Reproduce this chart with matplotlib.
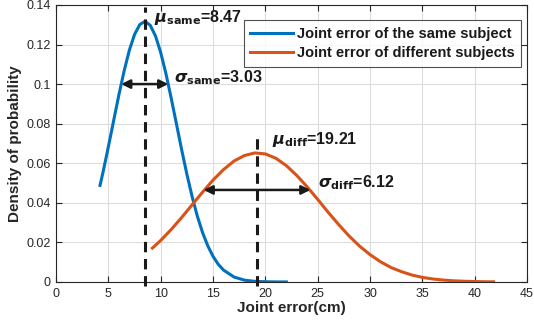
import matplotlib
matplotlib.use("Agg")
import matplotlib.pyplot as plt

plt.rcParams["font.family"] = ["Liberation Sans", "DejaVu Sans"]

# density curves
x_same = [4.2, 4.5, 5, 5.5, 6, 6.5, 7, 7.5, 8, 8.5, 9, 9.5, 10, 10.5, 11, 11.5,
          12, 12.5, 13, 13.5, 14, 14.5, 15, 15.5, 16, 17, 18, 19, 20, 21, 22]
y_same = [0.0488, 0.0558, 0.0684, 0.0815, 0.0945, 0.1066, 0.1171, 0.1251, 0.1301,
          0.1317, 0.1297, 0.1243, 0.1159, 0.1052, 0.0929, 0.0799, 0.0668, 0.0544,
          0.0431, 0.0332, 0.0249, 0.0182, 0.0129, 0.0089, 0.0060, 0.0025, 0.0009,
          0.0003, 0.0001, 0.00002, 0.0]

x_diff = [9.2, 10, 11, 12, 13, 14, 15, 16, 17, 18, 19, 20, 21, 22, 23, 24, 25, 26,
          27, 28, 29, 30, 31, 32, 33, 34, 35, 36, 37, 38, 39, 40, 41, 41.8]
y_diff = [0.0171, 0.0210, 0.0265, 0.0326, 0.0390, 0.0454, 0.0515, 0.0568, 0.0611,
          0.0639, 0.0652, 0.0647, 0.0625, 0.0588, 0.0538, 0.0480, 0.0417, 0.0352,
          0.0290, 0.0232, 0.0181, 0.0138, 0.0102, 0.0073, 0.0052, 0.0035, 0.0023,
          0.0015, 0.00095, 0.00058, 0.00035, 0.0002, 0.0001, 0.00007]

mu_same, sigma_same = 8.47, 3.03
mu_diff, sigma_diff = 19.21, 6.12

# annotation geometry
mean_line_top = [0.139, 0.074]
arrow_same = (6.22, 10.72, 0.1)
arrow_diff = (14.1, 24.3, 0.0465)

labels = ["Joint error of the same subject", "Joint error of different subjects"]
x_ticks = list(range(0, 50, 5))
y_ticks = [0, 0.02, 0.04, 0.06, 0.08, 0.1, 0.12, 0.14]
y_tick_labels = ["0", "0.02", "0.04", "0.06", "0.08", "0.1", "0.12", "0.14"]

blue = "#0072BD"
orange = "#D95319"
dark = "#262626"

fig = plt.figure(figsize=(5.34, 3.29), dpi=100)
ax = fig.add_axes([0.105, 0.143, 0.882, 0.842])

ax.plot(x_same, y_same, color=blue, lw=2.2, label=labels[0], zorder=3)
ax.plot(x_diff, y_diff, color=orange, lw=2.2, label=labels[1], zorder=3)

for mu, top in zip([mu_same, mu_diff], mean_line_top):
    ax.plot([mu, mu], [-0.002, top], color="#1a1a1a", lw=2.2,
            ls=(0, (3.4, 2.2)), clip_on=False, zorder=4)

for x0, x1, yy in [arrow_same, arrow_diff]:
    ax.annotate("", xy=(x0, yy), xytext=(x1, yy),
                arrowprops=dict(arrowstyle="<|-|>", color="#1a1a1a", lw=1.8,
                                mutation_scale=13, shrinkA=0, shrinkB=0),
                zorder=5)

txt = dict(fontsize=11.5, fontweight="bold", color="#1a1a1a", va="center")
ax.text(9.4, 0.1335, r"$\boldsymbol{\mu}_{\mathbf{same}}$=8.47", **txt)
ax.text(11.3, 0.1030, r"$\boldsymbol{\sigma}_{\mathbf{same}}$=3.03", **txt)
ax.text(20.6, 0.0718, r"$\boldsymbol{\mu}_{\mathbf{diff}}$=19.21", **txt)
ax.text(25.0, 0.0500, r"$\boldsymbol{\sigma}_{\mathbf{diff}}$=6.12", **txt)

ax.set_xlim(0, 45)
ax.set_ylim(0, 0.14)
ax.set_xticks(x_ticks)
ax.set_yticks(y_ticks)
ax.set_yticklabels(y_tick_labels)
ax.grid(True, color="#dcdcdc", lw=0.8)
ax.set_axisbelow(True)
ax.tick_params(direction="in", top=True, right=True, length=4, width=0.8,
               labelsize=9, colors=dark, pad=4)
for spine in ax.spines.values():
    spine.set_color(dark)
    spine.set_linewidth(0.8)

ax.set_xlabel("Joint error(cm)", fontsize=11, fontweight="bold", color=dark, labelpad=1)
ax.set_ylabel("Density of probability", fontsize=11, fontweight="bold", color=dark,
              labelpad=3)

leg = ax.legend(loc="upper right", bbox_to_anchor=(0.994, 0.955),
                prop={"weight": "bold", "size": 10.5}, frameon=True, fancybox=False,
                handlelength=2.9, handletextpad=0.3, borderpad=0.45, labelspacing=0.35,
                borderaxespad=0.2)
leg.get_frame().set_edgecolor(dark)
leg.get_frame().set_linewidth(0.8)
for t in leg.get_texts():
    t.set_color("#1a1a1a")

fig.savefig("out.png", dpi=100)
